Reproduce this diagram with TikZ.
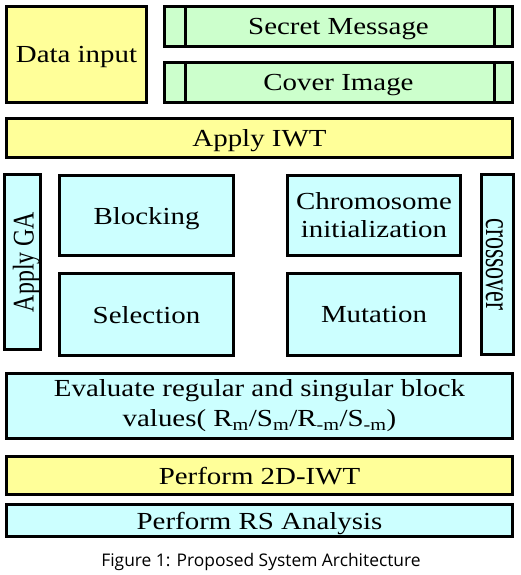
\documentclass[tikz,border=0pt]{standalone}
\usepackage{graphicx}
\usepackage{fontspec}
\setmainfont{Liberation Serif}[FakeStretch=1.18]
\newfontfamily\plainserif{Liberation Serif}
\newfontfamily\capfont{Open Sans}
\definecolor{cyel}{HTML}{FFFF99}
\definecolor{cgrn}{HTML}{CCFFCC}
\definecolor{ccyn}{HTML}{CCFFFF}
\begin{document}
\begin{tikzpicture}[x=1pt,y=-1pt,
  blk/.style={draw=black, line width=3pt, inner sep=0pt, align=center,
    font=\fontsize{24.5}{27}\selectfont},
  one/.style={text depth=0pt},
  yel/.style={blk, fill=cyel},
  grn/.style={blk, fill=cgrn},
  cyn/.style={blk, fill=ccyn},
  rotlbl/.style={inner sep=0pt},
  sz/.style 2 args={minimum width=#1, minimum height=#2}]
\useasboundingbox (0,0) rectangle (521,575);
\node[yel, one, sz={140pt}{96pt}] (datain) at (76.5,54.5) {Data input};
\node[grn, one, sz={348pt}{40pt}] (secret) at (338.5,26.5) {Secret Message};
\node[grn, one, sz={348pt}{40pt}] (cover) at (338.5,82.5) {Cover Image};
\draw[line width=3pt] (secret.north west -| 185,0) -- (secret.south west -| 185,0);
\draw[line width=3pt] (secret.north west -| 494,0) -- (secret.south west -| 494,0);
\draw[line width=3pt] (cover.north west -| 185,0) -- (cover.south west -| 185,0);
\draw[line width=3pt] (cover.north west -| 494,0) -- (cover.south west -| 494,0);
\node[yel, one, sz={506pt}{39pt}] (iwt) at (259.5,138) {Apply IWT};
\node[cyn, sz={36pt}{175pt}] (ga) at (22.5,262) {};
\node[rotlbl, rotate=90] (gat) at ([xshift=4pt]ga.center) {\scalebox{0.795}[1]{\plainserif\fontsize{30}{32}\selectfont Apply GA}};
\node[cyn, one, sz={174pt}{80pt}] (blocking) at (146.5,215.5) {Blocking};
\node[cyn, one, sz={174pt}{82pt}] (selection) at (146.5,314.5) {Selection};
\node[cyn, sz={173pt}{80pt}, font=\fontsize{24.5}{28}\selectfont] (chromo) at (374,215.5) {Chromosome\\initialization};
\node[cyn, one, sz={173pt}{82pt}] (mutation) at (374,314.5) {Mutation};
\node[cyn, sz={32pt}{180pt}] (cross) at (497.5,264.5) {};
\node[rotlbl, rotate=-90] (crosst) at ([xshift=-3pt]cross.center) {\scalebox{0.667}[1]{\plainserif\fontsize{36}{38}\selectfont crossover}};
\node[cyn, sz={506pt}{65pt}, font=\fontsize{24.5}{30}\selectfont] (eval) at (259.5,406) {Evaluate regular and singular block\\values( R\textsubscript{m}/S\textsubscript{m}/R\textsubscript{-m}/S\textsubscript{-m})};
\node[yel, one, sz={506pt}{38pt}] (perf) at (259.5,475.5) {Perform 2D-IWT};
\node[cyn, one, sz={506pt}{32pt}] (rs) at (259.5,520.5) {Perform RS Analysis};
\node[font=\capfont\fontsize{17.4}{19}\selectfont, inner sep=0pt] (cap) at (261,562) {Figure 1: Proposed System Architecture};
\end{tikzpicture}
\end{document}
